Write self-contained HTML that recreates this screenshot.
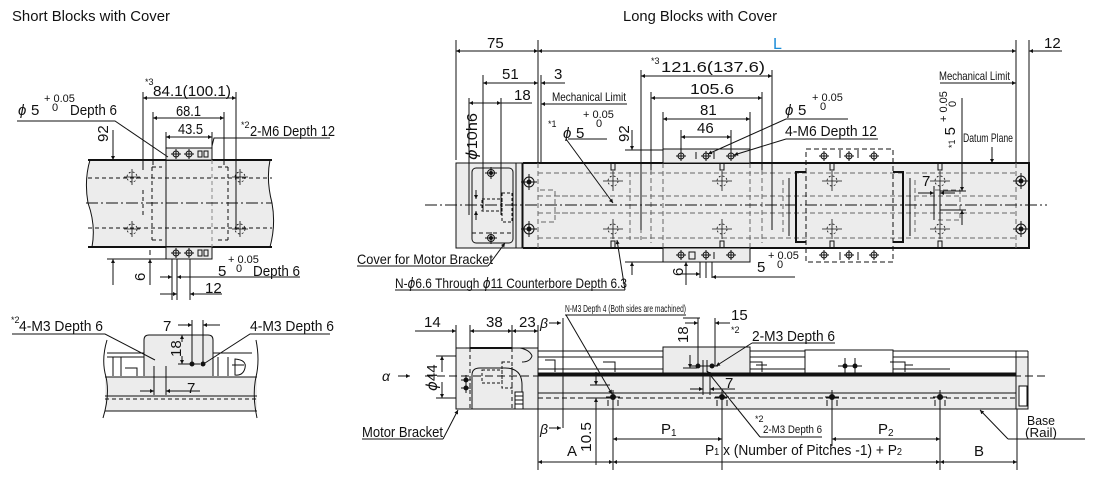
<!DOCTYPE html>
<html><head><meta charset="utf-8"><style>
html,body{margin:0;padding:0;background:#fff;}
svg{display:block;}
text{font-family:"Liberation Sans Narrow","Liberation Sans",sans-serif;fill:#111;}
</style></head><body>
<svg width="1100" height="483" viewBox="0 0 1100 483" xmlns="http://www.w3.org/2000/svg">
<defs>
<marker id="a" viewBox="0 0 10 10" refX="10" refY="5" markerWidth="8" markerHeight="4" markerUnits="userSpaceOnUse" orient="auto-start-reverse"><path d="M0,0 L10,5 L0,10z" fill="#111"/></marker>
</defs>
<g stroke="#111" stroke-width="1" fill="none">

<!-- ============ SHORT BLOCKS TOP VIEW ============ -->
<path d="M90,160 H270 Q266,180 272,203 Q276,225 270,247 H92 Q96,225 88,203 Q84,180 90,160z" fill="#ececec" stroke="none"/>
<path d="M90,160 Q84,180 88,203 Q96,225 92,247 M270,160 Q266,180 272,203 Q276,225 270,247"/>
<line x1="88" y1="160" x2="272" y2="160" stroke-width="2"/>
<line x1="88" y1="247" x2="272" y2="247" stroke-width="2"/>
<rect x="166" y="148" width="46" height="12" fill="#ececec"/>
<rect x="166" y="247" width="46" height="12" fill="#ececec"/>
<line x1="166" y1="160" x2="166" y2="247"/>
<line x1="212" y1="160" x2="212" y2="247" stroke="#888" stroke-dasharray="4,3"/>
<g stroke-dasharray="4,3">
<line x1="88" y1="178" x2="272" y2="178"/>
<line x1="88" y1="228" x2="272" y2="228"/>
<path d="M143,190 V218 M152,167 V240 M228,167 V240 M236,190 V218"/>
<path d="M152,167 H162 M152,240 H162 M218,167 H228 M218,240 H228"/>
</g>
<line x1="86" y1="203" x2="272" y2="203" stroke-dasharray="12,3,2,3"/>
<g stroke-width="0.8">
<circle cx="132" cy="177" r="5" stroke-dasharray="2,2"/><path d="M124,177 H140 M132,169 V185"/>
<circle cx="132" cy="229" r="5" stroke-dasharray="2,2"/><path d="M124,229 H140 M132,221 V237"/>
<circle cx="240" cy="177" r="5" stroke-dasharray="2,2"/><path d="M232,177 H248 M240,169 V185"/>
<circle cx="240" cy="229" r="5" stroke-dasharray="2,2"/><path d="M232,229 H248 M240,221 V237"/>
</g>
<circle cx="176" cy="154" r="3"/><path d="M171,154 H181 M176,149 V159"/>
<circle cx="189" cy="154" r="3"/><path d="M184,154 H194 M189,149 V159"/>
<path d="M198,151 h4 v6 h-4z M204,151 h4 v6 h-4z"/>
<circle cx="176" cy="253" r="3"/><path d="M171,253 H181 M176,248 V258"/>
<circle cx="189" cy="253" r="3"/><path d="M184,253 H194 M189,248 V258"/>
<path d="M198,250 h4 v6 h-4z M204,250 h4 v6 h-4z"/>
<!-- dims -->
<path d="M143,92 V170 M236,92 V230 M153,112 V165 M224,112 V165 M166,132 V148 M212,132 V148"/>
<line x1="143" y1="98" x2="236" y2="98" marker-start="url(#a)" marker-end="url(#a)"/>
<line x1="153" y1="118" x2="224" y2="118" marker-start="url(#a)" marker-end="url(#a)"/>
<line x1="166" y1="137" x2="212" y2="137" marker-start="url(#a)" marker-end="url(#a)"/>
<path d="M17,121 H115 L168,157" /><path d="M330,138 H214 L212,146"/>
<path d="M107,160 H166 M107,259 H166"/>
<line x1="113" y1="130" x2="113" y2="160" marker-end="url(#a)"/>
<line x1="113" y1="285" x2="113" y2="259" marker-end="url(#a)"/>
<line x1="150" y1="285" x2="150" y2="259" marker-end="url(#a)"/>
<line x1="150" y1="255" x2="150" y2="250"/>
<path d="M172,259 V300 M177,259 V300 M190,259 V300"/>
<line x1="160" y1="277" x2="172" y2="277" marker-end="url(#a)"/>
<line x1="300" y1="277" x2="177" y2="277" marker-end="url(#a)"/>
<line x1="160" y1="294" x2="177" y2="294" marker-end="url(#a)"/>
<line x1="222" y1="294" x2="190" y2="294" marker-end="url(#a)"/>

<!-- ============ SHORT SIDE VIEW ============ -->
<path d="M105,353 H257 V411 H105z" fill="#fff" stroke="none"/>
<rect x="105" y="377" width="152" height="34" fill="#ececec" stroke="none"/>
<path d="M107,340 Q101,360 106,377 Q110,395 103,418 M256,340 Q260,360 256,377 Q252,395 257,418"/>
<path d="M105,377 H257 M105,396 H257 M105,411 H257 M107,353 H144 M213,353 H252 M107,357 H144"/>
<line x1="105" y1="399" x2="257" y2="399" stroke-dasharray="4,3"/>
<path d="M144,376 V340 Q144,335 149,335 H208 Q213,335 213,340 V376" fill="#ececec"/>
<path d="M113,357 V376 M121,357 V376 M125,368 H137 V376 M218,357 V376 M228,357 V376 M232,365 H244"/>
<path d="M235,359 Q247,360 245,368 Q243,376 235,375z"/>
<path d="M154,366 V376 M166,366 V376"/>
<circle cx="192" cy="364" r="2" fill="#111"/><circle cx="203" cy="364" r="2" fill="#111"/>
<path d="M192,320 V364 M203,320 V364"/>
<line x1="178" y1="325" x2="192" y2="325" marker-end="url(#a)"/>
<line x1="220" y1="325" x2="203" y2="325" marker-end="url(#a)"/>
<path d="M178,364 H200"/>
<line x1="182" y1="342" x2="182" y2="335" marker-end="url(#a)"/>
<line x1="182" y1="356" x2="182" y2="364" marker-end="url(#a)"/>
<path d="M154,366 V395 M166,366 V395"/>
<line x1="140" y1="391" x2="154" y2="391" marker-end="url(#a)"/>
<line x1="200" y1="391" x2="166" y2="391" marker-end="url(#a)"/>
<path d="M12,334 H105 L155,360"/>
<path d="M330,334 H250 L205,363"/>

<!-- ============ LONG TOP VIEW ============ -->
<rect x="456" y="163" width="66" height="85" fill="#ececec"/>
<line x1="516" y1="163" x2="516" y2="248"/>
<rect x="472" y="168" width="41" height="75" rx="4"/>
<line x1="472" y1="233" x2="513" y2="233" stroke-dasharray="4,3"/>
<g stroke-dasharray="3,2">
<rect x="482" y="199" width="20" height="12"/>
<rect x="502" y="193" width="10" height="29"/>
</g>
<circle cx="491" cy="173" r="3.5"/><circle cx="491" cy="173" r="1.5" fill="#111"/><path d="M485,173 H497 M491,167 V179"/>
<circle cx="491" cy="238" r="3.5"/><circle cx="491" cy="238" r="1.5" fill="#111"/><path d="M485,238 H497 M491,232 V244"/>
<rect x="523" y="163" width="506" height="85" fill="#ececec"/>
<path d="M523,163 H1029 V248 H523" stroke-width="2"/>
<g stroke="#666" stroke-dasharray="5,3">
<path d="M538,173 H1016 M538,196 H1016 M538,213 H1016 M538,238 H1016"/>
<path d="M538,163 V248 M1016,163 V248"/>
<path d="M651,170 V243 M762,170 V243 M663,163 V248 M750,163 V248"/>
<path d="M540,190 H555 V222 H540 M555,196 H570 M555,213 H570"/>
<path d="M630,172 V240 M641,172 V240"/>
<path d="M783,180 V232 M915,180 V232 M935,190 H960 V220 H935"/>
</g>
<line x1="425" y1="205" x2="1047" y2="205" stroke-dasharray="12,3,2,3"/>
<!-- left body holes -->
<circle cx="529" cy="182" r="5"/><circle cx="529" cy="182" r="2" fill="#111"/><path d="M521,182 H537 M529,174 V190"/>
<circle cx="529" cy="229" r="5"/><circle cx="529" cy="229" r="2" fill="#111"/><path d="M521,229 H537 M529,221 V237"/>
<circle cx="1021" cy="181" r="5"/><circle cx="1021" cy="181" r="2" fill="#111"/><path d="M1013,181 H1029 M1021,173 V189"/>
<circle cx="1021" cy="229" r="5"/><circle cx="1021" cy="229" r="2" fill="#111"/><path d="M1013,229 H1029 M1021,221 V237"/>
<!-- rail hole marks -->
<g stroke-width="0.8">
<circle cx="613" cy="181" r="5" stroke-dasharray="2,2"/><path d="M603,181 H623 M613,171 V191"/>
<circle cx="613" cy="229" r="5" stroke-dasharray="2,2"/><path d="M603,229 H623 M613,219 V239"/>
<circle cx="722" cy="181" r="5" stroke-dasharray="2,2"/><path d="M712,181 H732 M722,171 V191"/>
<circle cx="722" cy="229" r="5" stroke-dasharray="2,2"/><path d="M712,229 H732 M722,219 V239"/>
<circle cx="832" cy="181" r="5" stroke-dasharray="2,2"/><path d="M822,181 H842 M832,171 V191"/>
<circle cx="832" cy="229" r="5" stroke-dasharray="2,2"/><path d="M822,229 H842 M832,219 V239"/>
<circle cx="940" cy="181" r="5" stroke-dasharray="2,2"/><path d="M930,181 H950 M940,171 V191"/>
<circle cx="940" cy="229" r="5" stroke-dasharray="2,2"/><path d="M930,229 H950 M940,219 V239"/>
</g>
<path d="M611,163 h4 v7 h-4z M611,241 h4 v7 h-4z M720,163 h4 v7 h-4z M720,241 h4 v7 h-4z M830,163 h4 v7 h-4z M830,241 h4 v7 h-4z M938,163 h4 v7 h-4z M938,241 h4 v7 h-4z"/>
<!-- carriage 1 -->
<rect x="663" y="149" width="87" height="14" fill="#ececec"/>
<rect x="663" y="248" width="87" height="14" fill="#ececec"/>
<g>
<circle cx="681" cy="156" r="3"/><path d="M676,156 H686 M681,151 V161"/>
<circle cx="706" cy="156" r="3"/><path d="M701,156 H711 M706,151 V161"/>
<circle cx="731" cy="156" r="3"/><path d="M726,156 H736 M731,151 V161"/>
<circle cx="681" cy="255" r="3"/><path d="M676,255 H686 M681,250 V260"/>
<circle cx="706" cy="255" r="3"/><path d="M701,255 H711 M706,250 V260"/>
<circle cx="731" cy="255" r="3"/><path d="M726,255 H736 M731,250 V260"/>
<path d="M696,152 v7 M714,152 v7 M689,252 h6 v7 h-6z M714,252 v7"/>
</g>
<!-- carriage 2 -->
<rect x="806" y="149" width="87" height="113" stroke-dasharray="5,3"/>
<path d="M806,172 H796 V242 H806 M893,172 H903 V242 H893" stroke-width="2"/>
<path d="M789,178 V236 M910,178 V236"/>
<circle cx="824" cy="156" r="3"/><path d="M819,156 H829 M824,151 V161"/>
<circle cx="849" cy="156" r="3"/><path d="M844,156 H854 M849,151 V161"/>
<circle cx="874" cy="156" r="3"/><path d="M869,156 H879 M874,151 V161"/>
<circle cx="824" cy="255" r="3"/><path d="M819,255 H829 M824,250 V260"/>
<circle cx="849" cy="255" r="3"/><path d="M844,255 H854 M849,250 V260"/>
<circle cx="874" cy="255" r="3"/><path d="M869,255 H879 M874,250 V260"/>
<path d="M840,150 v8 M858,150 v8 M840,252 v8 M858,252 v8"/>
<!-- top dims long -->
<path d="M456,40 V160 M538,40 V163 M1016,40 V163 M1029,40 V163"/>
<line x1="456" y1="51" x2="538" y2="51" marker-start="url(#a)" marker-end="url(#a)"/>
<line x1="538" y1="51" x2="1016" y2="51" marker-start="url(#a)" marker-end="url(#a)"/>
<line x1="1062" y1="51" x2="1029" y2="51" marker-end="url(#a)"/>
<path d="M483,75 V210 M541,75 V163 M469,98 V215 M501,98 V215"/>
<line x1="483" y1="83" x2="538" y2="83" marker-start="url(#a)" marker-end="url(#a)"/>
<line x1="565" y1="83" x2="541" y2="83" marker-end="url(#a)"/>
<line x1="469" y1="103" x2="501" y2="103" marker-start="url(#a)" marker-end="url(#a)"/>
<line x1="501" y1="103" x2="532" y2="103"/>
<line x1="627" y1="104" x2="541" y2="104" marker-end="url(#a)"/>
<line x1="552" y1="104" x2="627" y2="104"/>
<line x1="476" y1="190" x2="476" y2="199" marker-end="url(#a)"/>
<line x1="476" y1="220" x2="476" y2="211" marker-end="url(#a)"/>
<path d="M568,139 H607"/><line x1="566" y1="139" x2="613" y2="203" marker-end="url(#a)"/>
<path d="M625,150 H663 M625,262 H663"/>
<line x1="632" y1="130" x2="632" y2="150" marker-end="url(#a)"/>
<line x1="632" y1="275" x2="632" y2="262" marker-end="url(#a)"/>
<path d="M641,70 V230 M772,70 V230 M651,92 V170 M762,92 V170"/>
<line x1="641" y1="76" x2="772" y2="76" marker-start="url(#a)" marker-end="url(#a)"/>
<line x1="651" y1="98" x2="762" y2="98" marker-start="url(#a)" marker-end="url(#a)"/>
<line x1="663" y1="119" x2="750" y2="119" marker-start="url(#a)" marker-end="url(#a)"/>
<line x1="681" y1="137" x2="731" y2="137" marker-start="url(#a)" marker-end="url(#a)"/>
<path d="M663,112 V149 M750,112 V149 M681,130 V151 M731,130 V151"/>
<path d="M848,119 H786"/><line x1="786" y1="119" x2="708" y2="154" marker-end="url(#a)"/>
<path d="M878,139 H786"/><line x1="786" y1="139" x2="734" y2="155" marker-end="url(#a)"/>
<!-- right side dims -->
<path d="M940,83 H1010"/><line x1="1000" y1="83" x2="1016" y2="83" marker-end="url(#a)"/>
<line x1="992" y1="147" x2="992" y2="163" marker-end="url(#a)"/>
<path d="M962,98 V180 M940,191 H966 M940,210 H966"/>
<line x1="962" y1="170" x2="962" y2="191" marker-end="url(#a)"/>
<line x1="962" y1="225" x2="962" y2="210" marker-end="url(#a)"/>
<line x1="918" y1="193" x2="934" y2="193" marker-end="url(#a)"/>
<line x1="955" y1="193" x2="940" y2="193" marker-end="url(#a)"/>
<path d="M934,186 V220 M940,186 V220"/>
<!-- bottom-left labels leaders -->
<path d="M357,266 H488"/><line x1="488" y1="266" x2="505" y2="243" marker-end="url(#a)"/>
<path d="M395,290 H625"/><line x1="625" y1="290" x2="617" y2="240" marker-end="url(#a)"/>
<!-- bottom right dims of top view -->
<path d="M700,262 V278 M706,262 V278 M712,262 V278"/>
<line x1="680" y1="274" x2="700" y2="274" marker-end="url(#a)"/>
<line x1="795" y1="277" x2="712" y2="277" marker-end="url(#a)"/>
<line x1="686" y1="285" x2="686" y2="262" marker-end="url(#a)"/>

<!-- ============ LONG SIDE VIEW ============ -->
<rect x="456" y="348" width="82" height="61" fill="#ececec"/>
<path d="M470,348 V409 M512,348 V409" stroke-dasharray="4,3"/>
<line x1="470" y1="348" x2="512" y2="348" stroke-width="2"/>
<path d="M472,409 V375 Q472,368 480,368 H505 Q522,368 522,385 V409"/>
<g stroke-dasharray="3,2"><rect x="482" y="370" width="20" height="13"/><rect x="502" y="362" width="10" height="26"/></g>
<circle cx="466" cy="380" r="2" fill="#111"/><circle cx="466" cy="388" r="2" fill="#111"/>
<path d="M461,380 H471 M461,388 H471 M466,375 V393"/>
<rect x="515" y="392" width="8" height="17" fill="#fff"/>
<path d="M515,396 H523 M515,400 H523 M515,404 H523"/>
<path d="M520,348 Q530,350 532,356 Q530,362 522,362"/>
<path d="M538,348 V409" />
<!-- cover & rail -->
<path d="M538,351 H1028 M538,357 H1016" />
<rect x="538" y="376" width="479" height="33" fill="#ececec"/>
<line x1="538" y1="374" x2="1016" y2="374" stroke-width="3"/>
<path d="M538,393 H1017"/>
<line x1="538" y1="398" x2="1017" y2="398" stroke-dasharray="5,3"/>
<rect x="1016" y="357" width="12" height="52" fill="#ececec"/>
<path d="M1016,351 V357 M1028,351 V357"/>
<rect x="1019" y="386" width="8" height="20" fill="#fff"/>
<path d="M538,369 H950"/>
<rect x="663" y="347" width="87" height="26" fill="#ececec"/>
<rect x="805" y="350" width="88" height="23" fill="#fff"/>
<path d="M545,360 H555 V372 M603,362 H615 V372 M750,362 H762 V372 M890,362 H905 V372 M756,365 H767 M905,365 H913"/>
<line x1="425" y1="376" x2="1047" y2="376" stroke-dasharray="8,4"/>
<!-- rail holes side -->
<g>
<circle cx="613" cy="397" r="2.5" fill="#111"/><path d="M606,397 H620 M613,390 V404 M608,400 v6 M618,400 v6"/>
<circle cx="722" cy="397" r="2.5" fill="#111"/><path d="M715,397 H729 M722,390 V404 M717,400 v6 M727,400 v6"/>
<circle cx="832" cy="397" r="2.5" fill="#111"/><path d="M825,397 H839 M832,390 V404 M827,400 v6 M837,400 v6"/>
<circle cx="940" cy="397" r="2.5" fill="#111"/><path d="M933,397 H947 M940,390 V404 M935,400 v6 M945,400 v6"/>
</g>
<circle cx="698" cy="366" r="2" fill="#111"/><circle cx="712" cy="366" r="2" fill="#111"/>
<path d="M690,366 H718 M703,360 V372 M707,360 V372"/>
<circle cx="845" cy="366" r="2" fill="#111"/><circle cx="855" cy="366" r="2" fill="#111"/>
<path d="M838,366 H862 M845,358 V374 M855,358 V374"/>
<!-- side dims -->
<path d="M456,325 V348 M470,325 V348 M512,325 V348 M538,325 V348"/>
<line x1="415" y1="331" x2="456" y2="331" marker-end="url(#a)"/>
<line x1="470" y1="331" x2="512" y2="331" marker-start="url(#a)" marker-end="url(#a)"/>
<line x1="512" y1="331" x2="538" y2="331" marker-start="url(#a)" marker-end="url(#a)"/>
<line x1="549" y1="323" x2="561" y2="323" marker-end="url(#a)"/>
<line x1="563" y1="318" x2="563" y2="428"/>
<line x1="549" y1="428" x2="561" y2="428" marker-end="url(#a)"/>
<line x1="398" y1="376" x2="410" y2="376" marker-end="url(#a)"/>
<path d="M436,356 H456 M436,398 H456"/>
<line x1="442" y1="372" x2="442" y2="356" marker-end="url(#a)"/>
<line x1="442" y1="382" x2="442" y2="398" marker-end="url(#a)"/>
<path d="M362,439 H443"/><line x1="443" y1="439" x2="458" y2="410" marker-end="url(#a)"/>
<path d="M590,385 H610 M590,398 H610"/>
<line x1="596" y1="372" x2="596" y2="385" marker-end="url(#a)"/>
<line x1="596" y1="418" x2="596" y2="398" marker-end="url(#a)"/>
<path d="M596,418 V465"/>
<path d="M538,409 V470 M613,402 V470 M722,402 V470 M832,402 V446 M940,402 V470 M1017,409 V470"/>
<line x1="538" y1="462" x2="613" y2="462" marker-start="url(#a)" marker-end="url(#a)"/>
<line x1="613" y1="439" x2="722" y2="439" marker-start="url(#a)" marker-end="url(#a)"/>
<line x1="613" y1="462" x2="940" y2="462" marker-start="url(#a)" marker-end="url(#a)"/>
<line x1="832" y1="439" x2="940" y2="439" marker-start="url(#a)" marker-end="url(#a)"/>
<line x1="940" y1="462" x2="1017" y2="462" marker-start="url(#a)" marker-end="url(#a)"/>
<path d="M1085,439 H1008"/><line x1="1008" y1="439" x2="980" y2="410" marker-end="url(#a)"/>
<path d="M565,315 H686"/><line x1="566" y1="315" x2="612" y2="394" marker-end="url(#a)"/>
<path d="M683,318 H700 M683,368 H697"/>
<line x1="690" y1="355" x2="690" y2="368" marker-end="url(#a)"/>
<path d="M698,318 V366 M715,318 V366"/>
<line x1="685" y1="323" x2="698" y2="323" marker-end="url(#a)"/>
<line x1="730" y1="323" x2="715" y2="323" marker-end="url(#a)"/>
<path d="M835,343 H752"/><line x1="752" y1="343" x2="716" y2="366" marker-end="url(#a)"/>
<path d="M703,372 V395 M710,372 V395"/>
<line x1="690" y1="389" x2="703" y2="389" marker-end="url(#a)"/>
<line x1="735" y1="389" x2="710" y2="389" marker-end="url(#a)"/>
<path d="M822,437 H760"/><line x1="760" y1="437" x2="707" y2="371" marker-end="url(#a)"/>
</g>

<!-- ============ TEXT ============ -->
<g font-size="15">
<text x="12" y="21" textLength="158" lengthAdjust="spacingAndGlyphs">Short Blocks with Cover</text>
<text x="623" y="21" textLength="154" lengthAdjust="spacingAndGlyphs">Long Blocks with Cover</text>
<!-- short top -->
<text x="145" y="85" font-size="9">*3</text>
<text x="153" y="96" textLength="78" lengthAdjust="spacingAndGlyphs">84.1(100.1)</text>
<text x="176" y="116" textLength="25" lengthAdjust="spacingAndGlyphs">68.1</text>
<text x="178" y="134" textLength="25" lengthAdjust="spacingAndGlyphs">43.5</text>
<text x="18" y="115" font-family="DejaVu Sans" font-style="italic">ϕ</text><text x="31" y="115">5</text>
<text x="44" y="102" font-size="11">+ 0.05</text><text x="52" y="111" font-size="11">0</text>
<text x="70" y="115" textLength="47" lengthAdjust="spacingAndGlyphs">Depth 6</text>
<text x="241" y="128" font-size="9">*2</text>
<text x="250" y="136" textLength="85" lengthAdjust="spacingAndGlyphs">2-M6 Depth 12</text>
<text transform="translate(108,142) rotate(-90)">92</text>
<text x="218" y="276">5</text>
<text x="228" y="263" font-size="11">+ 0.05</text><text x="236" y="272" font-size="11">0</text>
<text x="253" y="276" textLength="47" lengthAdjust="spacingAndGlyphs">Depth 6</text>
<text transform="translate(145,281) rotate(-90)">6</text>
<text x="205" y="293">12</text>
<!-- short side -->
<text x="11" y="323" font-size="9">*2</text>
<text x="19" y="331" textLength="84" lengthAdjust="spacingAndGlyphs">4-M3 Depth 6</text>
<text x="163" y="331">7</text>
<text x="250" y="331" textLength="84" lengthAdjust="spacingAndGlyphs">4-M3 Depth 6</text>
<text transform="translate(181,357) rotate(-90)">18</text>
<text x="187" y="393">7</text>
<!-- long top -->
<text x="487" y="48">75</text>
<text x="773" y="49" font-size="16" fill="#1a8cd8" style="fill:#1a8cd8">L</text>
<text x="1044" y="48">12</text>
<text x="502" y="79">51</text>
<text x="554" y="79">3</text>
<text x="514" y="100">18</text>
<text x="552" y="101" font-size="12" textLength="74" lengthAdjust="spacingAndGlyphs">Mechanical Limit</text>
<text transform="translate(477,160) rotate(-90)" textLength="47" lengthAdjust="spacingAndGlyphs"><tspan font-family="DejaVu Sans" font-style="italic">ϕ</tspan>10h6</text>
<text x="548" y="127" font-size="9">*1</text>
<text x="563" y="138" font-family="DejaVu Sans" font-style="italic">ϕ</text><text x="576" y="138">5</text>
<text x="583" y="118" font-size="11">+ 0.05</text><text x="596" y="127" font-size="11">0</text>
<text transform="translate(629,142) rotate(-90)">92</text>
<text x="651" y="64" font-size="9">*3</text>
<text x="661" y="72" textLength="104" lengthAdjust="spacingAndGlyphs">121.6(137.6)</text>
<text x="690" y="94" textLength="44" lengthAdjust="spacingAndGlyphs">105.6</text>
<text x="700" y="115">81</text>
<text x="697" y="133">46</text>
<text x="785" y="115" font-family="DejaVu Sans" font-style="italic">ϕ</text><text x="798" y="115">5</text>
<text x="812" y="101" font-size="11">+ 0.05</text><text x="820" y="110" font-size="11">0</text>
<text x="785" y="136" textLength="92" lengthAdjust="spacingAndGlyphs">4-M6 Depth 12</text>
<text x="939" y="80" font-size="12" textLength="71" lengthAdjust="spacingAndGlyphs">Mechanical Limit</text>
<text x="963" y="142" font-size="12" textLength="50" lengthAdjust="spacingAndGlyphs">Datum Plane</text>
<text transform="translate(955,148) rotate(-90)"><tspan font-size="9">*1</tspan> 5</text>
<text transform="translate(947,122) rotate(-90)" font-size="11">+ 0.05</text>
<text transform="translate(956,107) rotate(-90)" font-size="11">0</text>
<text x="922" y="186">7</text>
<text x="357" y="264" font-size="14" textLength="136" lengthAdjust="spacingAndGlyphs">Cover for Motor Bracket</text>
<text x="395" y="288" font-size="14" textLength="232" lengthAdjust="spacingAndGlyphs">N-<tspan font-family="DejaVu Sans" font-style="italic">ϕ</tspan>6.6 Through <tspan font-family="DejaVu Sans" font-style="italic">ϕ</tspan>11 Counterbore Depth 6.3</text>
<text x="757" y="272">5</text>
<text x="768" y="259" font-size="11">+ 0.05</text><text x="777" y="268" font-size="11">0</text>
<text transform="translate(683,276) rotate(-90)">6</text>
<!-- long side -->
<text x="424" y="327">14</text>
<text x="486" y="327">38</text>
<text x="519" y="327">23</text>
<text x="540" y="328" font-family="DejaVu Sans" font-style="italic" font-size="14">β</text>
<text x="540" y="434" font-family="DejaVu Sans" font-style="italic" font-size="14">β</text>
<text x="382" y="381" font-family="DejaVu Sans" font-style="italic" font-size="14">α</text>
<text transform="translate(437,391) rotate(-90)"><tspan font-family="DejaVu Sans" font-style="italic">ϕ</tspan>44</text>
<text x="362" y="437" textLength="81" lengthAdjust="spacingAndGlyphs">Motor Bracket</text>
<text transform="translate(591,452) rotate(-90)" textLength="30" lengthAdjust="spacingAndGlyphs">10.5</text>
<text x="567" y="456">A</text>
<text x="661" y="434">P<tspan font-size="10" dy="2">1</tspan></text>
<text x="705" y="455" textLength="197" lengthAdjust="spacingAndGlyphs">P<tspan font-size="10">1</tspan> x (Number of Pitches -1) + P<tspan font-size="10">2</tspan></text>
<text x="878" y="434">P<tspan font-size="10" dy="2">2</tspan></text>
<text x="974" y="456">B</text>
<text x="1027" y="425" font-size="13" textLength="28" lengthAdjust="spacingAndGlyphs">Base</text>
<text x="1025" y="437" font-size="13" textLength="32" lengthAdjust="spacingAndGlyphs">(Rail)</text>
<text x="565" y="312" font-size="10" textLength="121" lengthAdjust="spacingAndGlyphs">N-M3 Depth 4 (Both sides are machined)</text>
<text transform="translate(688,343) rotate(-90)">18</text>
<text x="731" y="320">15</text>
<text x="731" y="333" font-size="9">*2</text>
<text x="752" y="341" textLength="83" lengthAdjust="spacingAndGlyphs">2-M3 Depth 6</text>
<text x="725" y="388">7</text>
<text x="755" y="422" font-size="9">*2</text>
<text x="763" y="433" font-size="11" textLength="59" lengthAdjust="spacingAndGlyphs">2-M3 Depth 6</text>
</g>
</svg>
</body></html>
